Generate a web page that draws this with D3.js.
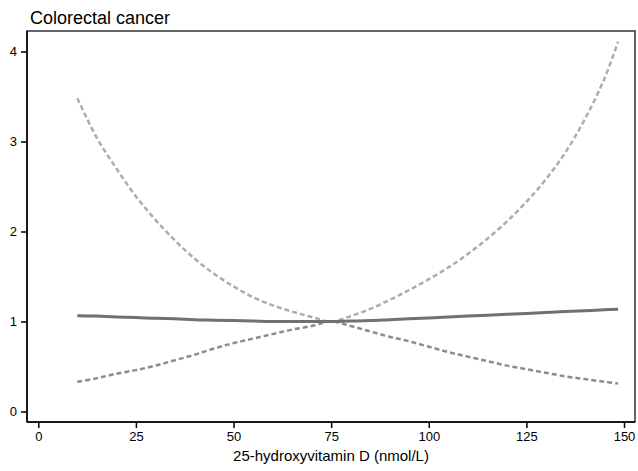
<!DOCTYPE html>
<html>
<head>
<meta charset="utf-8">
<script src="https://cdn.jsdelivr.net/npm/d3@7"></script>
<style>
  body { margin: 0; background: #fff; }
  text { font-family: "Liberation Sans", Arial, sans-serif; }
</style>
</head>
<body>
<svg id="chart" width="638" height="471"></svg>
<script>
// vitamin D levels (nmol/L)
var vitD = [10, 15, 20, 25, 30, 35, 40, 45, 50, 55, 60, 65, 70, 75,
            80, 85, 90, 95, 100, 105, 110, 115, 120, 125, 130, 135, 140, 145, 148.5];
// relative risk estimate
var rr = [1.065, 1.06, 1.05, 1.045, 1.035, 1.03, 1.02, 1.015, 1.01, 1.005, 1.0, 1.0, 1.0, 1.0,
          1.005, 1.01, 1.02, 1.03, 1.04, 1.05, 1.06, 1.07, 1.08, 1.09, 1.10, 1.11, 1.12, 1.13, 1.135];
// upper confidence bound
var upper = [3.48, 3.04, 2.70, 2.39, 2.13, 1.90, 1.70, 1.53, 1.39, 1.27, 1.18, 1.11, 1.05, 1.0,
             1.06, 1.14, 1.24, 1.35, 1.47, 1.60, 1.75, 1.92, 2.11, 2.33, 2.58, 2.88, 3.25, 3.70, 4.11];
// lower confidence bound
var lower = [0.33, 0.37, 0.42, 0.46, 0.51, 0.57, 0.63, 0.70, 0.76, 0.81, 0.86, 0.91, 0.95, 1.0,
             0.95, 0.89, 0.83, 0.78, 0.72, 0.66, 0.61, 0.56, 0.51, 0.47, 0.43, 0.39, 0.36, 0.33, 0.31];

var xTicks = [0, 25, 50, 75, 100, 125, 150];
var yTicks = [0, 1, 2, 3, 4];

var svg = d3.select("#chart");

var pLeft = 27, pRight = 635, pTop = 31, pBottom = 422;

var x = d3.scaleLinear().domain([0, 150]).range([38.3, 624]);
var y = d3.scaleLinear().domain([0, 4]).range([411.5, 51.5]);

// frame
svg.append("rect")
  .attr("x", pLeft).attr("y", pTop)
  .attr("width", pRight - pLeft).attr("height", pBottom - pTop)
  .attr("fill", "none").attr("stroke", "#333").attr("stroke-width", 1.5);

var xAxis = svg.append("g")
  .attr("transform", "translate(0," + pBottom + ")")
  .call(d3.axisBottom(x).tickValues(xTicks).tickFormat(d3.format("d"))
    .tickSize(6).tickSizeOuter(0).tickPadding(4));

var yAxis = svg.append("g")
  .attr("transform", "translate(" + pLeft + ",0)")
  .call(d3.axisLeft(y).tickValues(yTicks).tickFormat(d3.format("d"))
    .tickSize(6).tickSizeOuter(0).tickPadding(4));

[xAxis, yAxis].forEach(function(ax) {
  ax.select(".domain").remove();
  ax.selectAll("line").attr("stroke", "#000").attr("stroke-width", 1.5);
  ax.selectAll("text").attr("fill", "#000").style("font-size", "13px")
    .style("font-family", "'Liberation Sans', Arial, sans-serif");
});

// black axis lines on left and bottom
svg.append("line").attr("x1", pLeft).attr("x2", pLeft).attr("y1", pTop).attr("y2", pBottom)
  .attr("stroke", "#000").attr("stroke-width", 1.5);
svg.append("line").attr("x1", pLeft).attr("x2", pRight).attr("y1", pBottom).attr("y2", pBottom)
  .attr("stroke", "#000").attr("stroke-width", 1.5);

function lineFor(vals) {
  return d3.line()
    .x(function(d, i) { return x(vitD[i]); })
    .y(function(d) { return y(d); })
    .curve(d3.curveCatmullRom)(vals);
}

svg.append("path").attr("d", lineFor(lower))
  .attr("fill", "none").attr("stroke", "#8c8c8c").attr("stroke-width", 2.5)
  .attr("stroke-dasharray", "5,3");

svg.append("path").attr("d", lineFor(upper))
  .attr("fill", "none").attr("stroke", "#acacac").attr("stroke-width", 2.5)
  .attr("stroke-dasharray", "5,3");

svg.append("path").attr("d", lineFor(rr))
  .attr("fill", "none").attr("stroke", "#707070").attr("stroke-width", 3);

// title
svg.append("text")
  .attr("x", 30).attr("y", 24)
  .style("font-size", "18px")
  .attr("fill", "#000")
  .text("Colorectal cancer");

// x label
svg.append("text")
  .attr("x", (pLeft + pRight) / 2).attr("y", 461)
  .attr("text-anchor", "middle")
  .style("font-size", "15px")
  .attr("fill", "#000")
  .text("25-hydroxyvitamin D (nmol/L)");
</script>
</body>
</html>
